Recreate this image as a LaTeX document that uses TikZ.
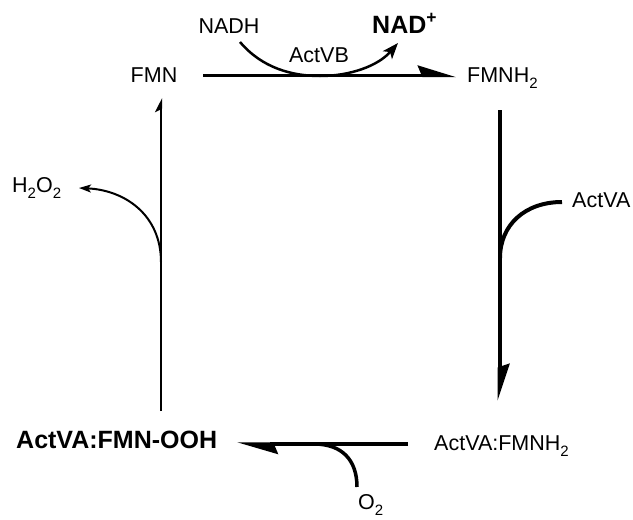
\documentclass[tikz,border=0pt]{standalone}
\usepackage{fontspec}
\setmainfont{Liberation Sans}
\usetikzlibrary{arrows.meta}
\newcommand{\subs}[1]{\raisebox{-0.3em}{\fontsize{15}{15}\selectfont #1}}
\begin{document}
\begin{tikzpicture}[x=1pt,y=-1pt,
  lbl/.style={inner sep=0pt, font=\fontsize{21.5}{21.5}\selectfont},
  blbl/.style={inner sep=0pt, font=\fontsize{25}{25}\selectfont\bfseries},
  halfhead/.style={-{Stealth[harpoon, length=33pt, width=20pt, inset=4pt]}},
  curvehead/.style={-{Stealth[length=16pt, width=12pt, inset=4pt]}},
  smallhead/.style={-{Stealth[length=12pt, width=8pt, inset=3pt]}}]
\useasboundingbox (0,0) rectangle (633,520);

% labels
\node[lbl, anchor=base] (fmn) at (154,82) {FMN};
\node[lbl, anchor=base west] (fmnh2) at (467,82) {FMNH\subs{2}};
\node[lbl, anchor=base] (nadh) at (229,33) {NADH};
\node[blbl, anchor=base west] (nad) at (372,33) {NAD\textsuperscript{+}};
\node[lbl, anchor=base] (actvb) at (319,62) {ActVB};
\node[lbl, anchor=base west] (h2o2) at (12,192) {H\subs{2}O\subs{2}};
\node[lbl, anchor=base west] (actva) at (572,207) {ActVA};
\node[blbl, anchor=base west] (ooh) at (16,448) {ActVA:FMN-OOH};
\node[lbl, anchor=base west] (cplx) at (434,450) {ActVA:FMNH\subs{2}};
\node[lbl, anchor=base west] (o2) at (358,509) {O\subs{2}};

% coordinates of the arrow ends
\coordinate (t0) at (203,75.5);
\coordinate (t1) at (456,75.5);
\coordinate (r0) at (499.5,110);
\coordinate (r1) at (499.5,401);
\coordinate (b0) at (408,444);
\coordinate (b1) at (237,444);
\coordinate (l0) at (161,411);
\coordinate (l1) at (161,98);

\coordinate (nadhs) at (240,42);
\coordinate (nadbot) at (320,76);
\coordinate (nade) at (398,43);
\coordinate (hjoin) at (161,262);
\coordinate (he) at (79,188);
\coordinate (as) at (562,202);
\coordinate (ajoin) at (500,258);
\coordinate (os) at (357,487);
\coordinate (ojoin) at (314,444);

% main arrows
\draw[line width=3.2pt, halfhead] (t0) -- (t1);
\draw[line width=4pt, -{Stealth[harpoon, length=31pt, width=20pt, inset=3pt]}] (r0) -- (r1);
\draw[line width=3.4pt, -{Stealth[harpoon, length=35pt, width=20pt, inset=4pt]}] (b0) -- (b1);
\draw[line width=2.5pt, -{Stealth[harpoon, length=12pt, width=12pt, inset=3pt]}] (l0) -- (l1);

% side arrows
\draw[line width=2.5pt, curvehead] (nadhs) .. controls (262,68) and (292,76) .. (nadbot)
  .. controls (350,76) and (378,66) .. (nade);
\draw[line width=2pt, smallhead] (hjoin) .. controls (161,215) and (125,190) .. (he);
\draw[line width=4pt] (as) .. controls (525,202) and (500,225) .. (ajoin);
\draw[line width=3.5pt] (os) .. controls (357,460) and (342,444) .. (ojoin);
\end{tikzpicture}
\end{document}
